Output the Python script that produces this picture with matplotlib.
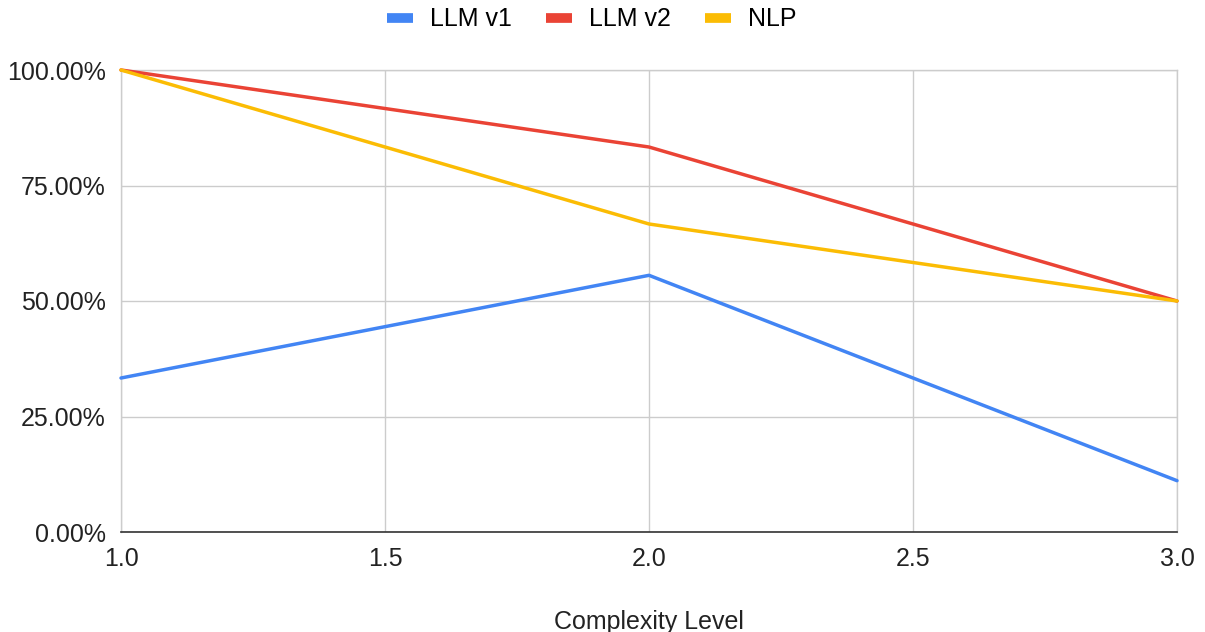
import matplotlib
matplotlib.use("Agg")
import matplotlib.pyplot as plt
from matplotlib.ticker import FuncFormatter

plt.rcParams['font.family'] = ['Liberation Sans', 'DejaVu Sans']

complexity = [1.0, 2.0, 3.0]
llm_v1 = [33.33, 55.56, 11.11]
llm_v2 = [100.0, 83.33, 50.0]
nlp = [100.0, 66.67, 50.0]

series = [
    ("LLM v1", llm_v1, "#4285F4"),
    ("LLM v2", llm_v2, "#EA4335"),
    ("NLP", nlp, "#FBBC04"),
]

fig = plt.figure(figsize=(12.05, 6.32), dpi=100)
ax = fig.add_axes([121 / 1205, 1 - 532 / 632, (1177 - 121) / 1205, (532 - 70) / 632])

for name, vals, col in series:
    ax.plot(complexity, vals, color=col, lw=2.5, label=name, solid_capstyle='round', clip_on=False)

ax.set_xlim(1.0, 3.0)
ax.set_ylim(0, 100)
ax.set_xticks([1.0, 1.5, 2.0, 2.5, 3.0])
ax.set_yticks([0, 25, 50, 75, 100])
ax.xaxis.set_major_formatter(FuncFormatter(lambda v, p: "{0:.1f}".format(v)))
ax.yaxis.set_major_formatter(FuncFormatter(lambda v, p: "{0:.2f}%".format(v)))
ax.grid(True, color='#cccccc', lw=1.0)
ax.set_axisbelow(True)
for s in ['top', 'right', 'left']:
    ax.spines[s].set_color('#cccccc')
    ax.spines[s].set_linewidth(1.0)
    ax.spines[s].set_zorder(0.5)
ax.spines['bottom'].set_color('#333333')
ax.spines['bottom'].set_linewidth(1.2)
ax.tick_params(length=0, labelsize=18, colors='#222222')
ax.tick_params(axis='x', pad=11)
ax.tick_params(axis='y', pad=11)
ax.set_xlabel("Complexity Level", fontsize=18, color='#222222', labelpad=28)

fig.legend(loc='center', bbox_to_anchor=(0.491, 1 - 19 / 632), ncol=3, frameon=False,
           fontsize=18, handlelength=1.04, handleheight=0.5, columnspacing=1.35,
           handletextpad=0.7, borderpad=0, borderaxespad=0)
for h in fig.legends[0].get_lines():
    h.set_linewidth(7)
    h.set_solid_capstyle('butt')

fig.savefig("out.png", dpi=100)
